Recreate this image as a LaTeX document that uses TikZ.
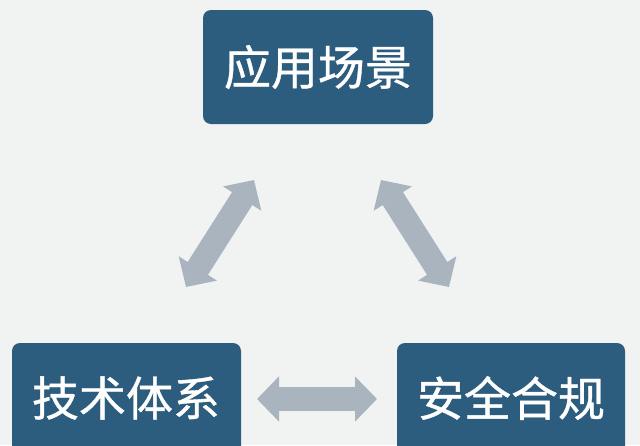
\documentclass[tikz,border=0pt]{standalone}
\usepackage{fontspec}
\newfontfamily\cjk[FakeBold=0.8]{Noto Sans CJK SC}
\usetikzlibrary{arrows.meta}
\definecolor{bg}{HTML}{F1F2F2}
\definecolor{boxc}{HTML}{2C5D7E}
\definecolor{arrc}{HTML}{A9B4BF}
\begin{document}
\begin{tikzpicture}[x=1pt,y=-1pt,
  topic/.style={fill=boxc, rounded corners=8pt, inner sep=0pt, minimum width=230pt, minimum height=114pt, text=white, font=\cjk\fontsize{47}{47}\selectfont},
  label/.style={text=white, font=\cjk\fontsize{47}{47}\selectfont},
  link/.style={arrc, line width=24pt, {Triangle[length=22pt,width=44pt]}-{Triangle[length=22pt,width=44pt]}}]
\fill[bg] (0,0) rectangle (640,445);
\clip (0,0) rectangle (640,445);
\node[topic] (app) at (318,67) {应用场景};
\node[topic, minimum width=229pt, minimum height=130pt] (tech) at (126.5,408) {};
\node[topic, minimum width=228pt, minimum height=130pt] (sec) at (511,408) {};
\node[label] (techt) at (126,398) {技术体系};
\node[label] (sect) at (511,398) {安全合规};
\coordinate (l1) at (186,287);
\coordinate (l2) at (254,180);
\coordinate (r1) at (381,180);
\coordinate (r2) at (449,287);
\coordinate (h1) at (257,399);
\coordinate (h2) at (377,399);
\draw[link] (l1) -- (l2);
\draw[link] (r1) -- (r2);
\draw[link] (h1) -- (h2);
\end{tikzpicture}
\end{document}
